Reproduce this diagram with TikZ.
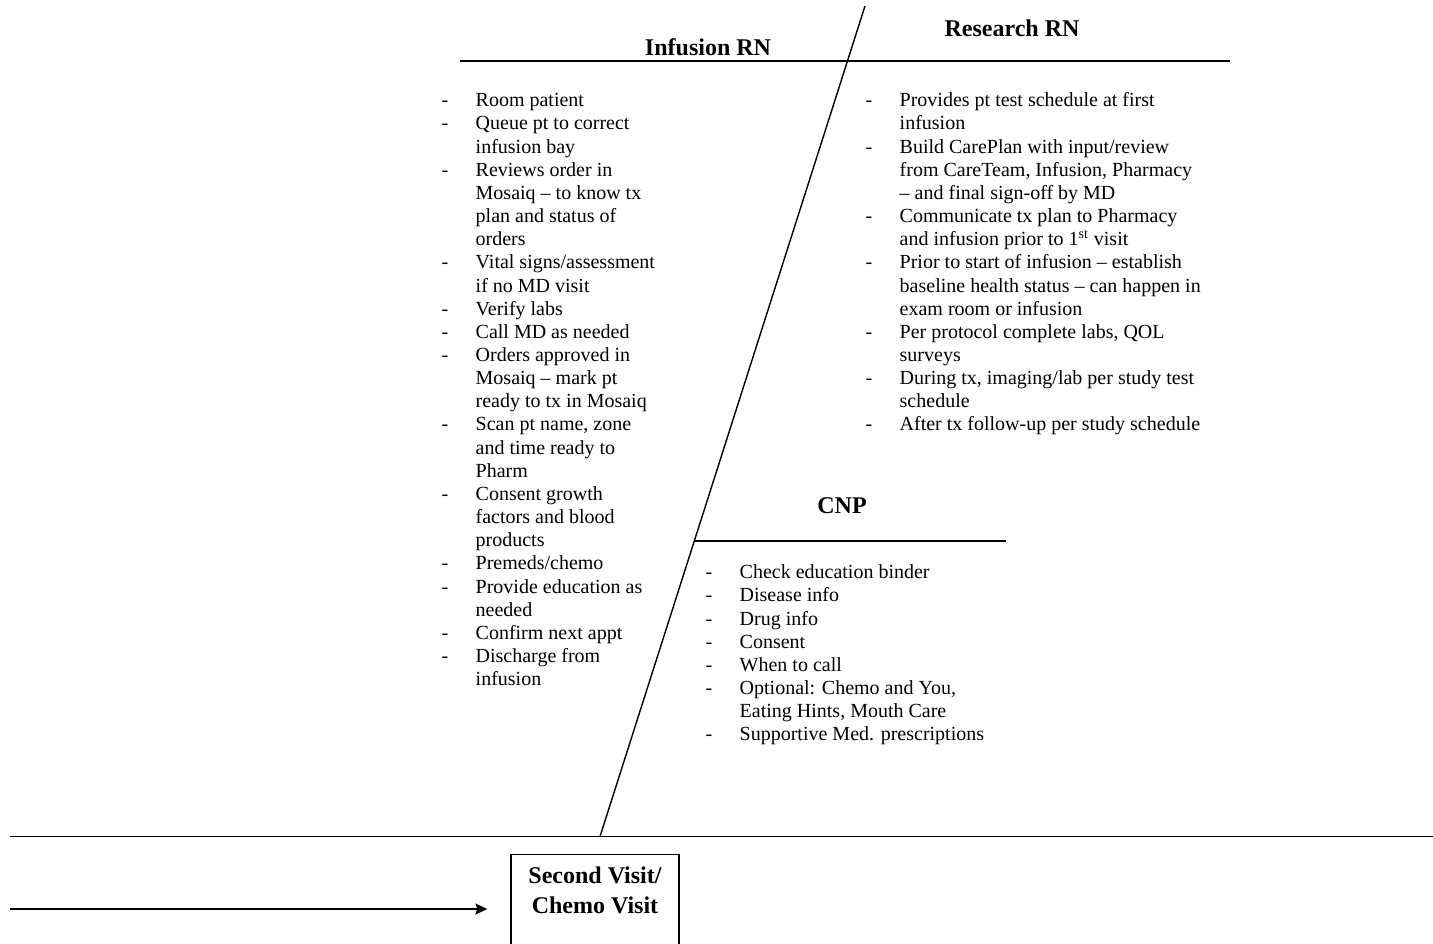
\documentclass[tikz,border=0pt]{standalone}
\usepackage{fontspec}
\setmainfont{Liberation Serif}
\usetikzlibrary{arrows.meta}
\newcommand{\itm}{\makebox[17pt][l]{-}}
\newcommand{\cnt}{\hspace*{17pt}}

\begin{document}
\begin{tikzpicture}[x=0.5pt,y=-0.5pt,line width=0.7pt,
  head/.style={font=\fontsize{12}{15}\selectfont\bfseries,anchor=base,inner sep=0},
  items/.style={font=\fontsize{10}{11.58}\selectfont,align=left,anchor=north west,inner sep=0}]
\useasboundingbox (0,0) rectangle (1433,943);
% spine and the three rules
\coordinate (spinetop) at (865,6);
\coordinate (spinebot) at (600,836.5);
\coordinate (cnpleft) at (694,541);
\draw (spinetop) -- (spinebot);
\draw (460,61) coordinate (topleft) -- (1230,61) coordinate (topright);
\draw (cnpleft) -- (1006,541) coordinate (cnpright);
\draw (10,836.5) coordinate (baseleft) -- (1433,836.5) coordinate (baseright);

% headings
\node[head] (infhead) at (708,55) {Infusion RN};
\node[head] (reshead) at (1012,36) {Research RN};
\node[head] (cnphead) at (842,513) {CNP};

% lists
\node[items] (inflist) at (441,89.8) {\strut\itm Room patient\\
\itm Queue pt to correct\\ \cnt infusion bay\\
\itm Reviews order in\\ \cnt Mosaiq – to know tx\\ \cnt plan and status of\\ \cnt orders\\
\itm Vital signs/assessment\\ \cnt if no MD visit\\
\itm Verify labs\\
\itm Call MD as needed\\
\itm Orders approved in\\ \cnt Mosaiq – mark pt\\ \cnt ready to tx in Mosaiq\\
\itm Scan pt name, zone\\ \cnt and time ready to\\ \cnt Pharm\\
\itm Consent growth\\ \cnt factors and blood\\ \cnt products\\
\itm Premeds/chemo\\
\itm Provide education as\\ \cnt needed\\
\itm Confirm next appt\\
\itm Discharge from\\ \cnt infusion};

\node[items] (reslist) at (865,89.8) {\strut\itm Provides pt test schedule at first\\ \cnt infusion\\
\itm Build CarePlan with input/review\\ \cnt from CareTeam, Infusion, Pharmacy\\ \cnt – and final sign-off by MD\\
\itm Communicate tx plan to Pharmacy\\ \cnt and infusion prior to 1\textsuperscript{st} visit\\
\itm Prior to start of infusion – establish\\ \cnt baseline health status – can happen in\\ \cnt exam room or infusion\\
\itm Per protocol complete labs, QOL\\ \cnt surveys\\
\itm During tx, imaging/lab per study test\\ \cnt schedule\\
\itm After tx follow-up per study schedule};

\node[items] (cnplist) at (705,561.8) {\strut\itm Check education binder\\
\itm Disease info\\
\itm Drug info\\
\itm Consent\\
\itm When to call\\
\itm Optional: Chemo and You,\\ \cnt Eating Hints, Mouth Care\\
\itm Supportive Med. prescriptions};

% visit box and arrow
\node[draw,minimum width=84pt,minimum height=60pt,anchor=north,inner sep=0] (visit) at (595,854) {};
\node[font=\fontsize{12}{15}\selectfont\bfseries,align=center,anchor=north,inner sep=0] (visitlbl)
  at (595,862) {\strut Second Visit/\\Chemo Visit};
\coordinate (arrtail) at (10,909);
\draw[-{Stealth[length=6pt,width=5.5pt,inset=1pt]}] (arrtail) -- ([xshift=-11.5pt]visit.west |- arrtail);
\end{tikzpicture}
\end{document}
